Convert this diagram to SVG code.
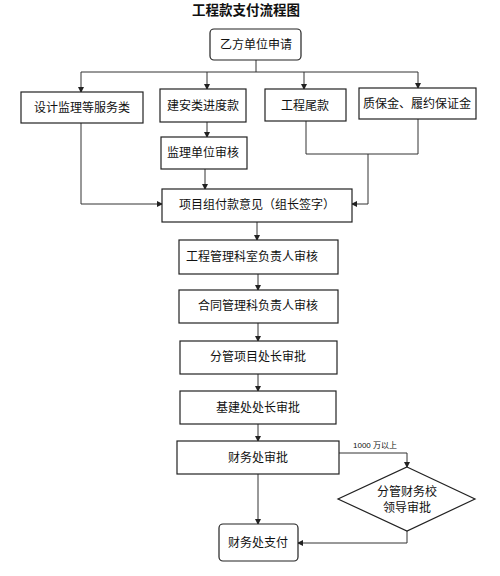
<svg xmlns="http://www.w3.org/2000/svg" width="500" height="576" viewBox="0 0 500 576">
<defs>
<marker id="ah" markerWidth="6" markerHeight="6" refX="5" refY="3" orient="auto" markerUnits="userSpaceOnUse">
<path d="M0,0 L6,3 L0,6 Z" fill="#222"/>
</marker>
<style>
.b{fill:#fff;stroke:#222;stroke-width:1.2}
.t{font-family:"Liberation Sans","Noto Sans CJK SC",sans-serif;font-size:12px;fill:#111;text-anchor:middle;dominant-baseline:central}
.c{fill:none;stroke:#333;stroke-width:1}
.a{marker-end:url(#ah)}
</style>
</defs>
<rect width="500" height="576" fill="#fff"/>
<text x="246" y="10" style="font-family:'Liberation Sans','Noto Sans CJK SC',sans-serif;font-size:13.5px;font-weight:bold;text-anchor:middle;dominant-baseline:central;fill:#111">工程款支付流程图</text>

<g id="connectors">
<path class="c" d="M256,60 V72 M81,72 H418"/>
<path class="c a" d="M81,72 V92"/>
<path class="c a" d="M207,72 V89"/>
<path class="c a" d="M304,72 V89"/>
<path class="c a" d="M418,72 V88"/>
<path class="c a" d="M207,122 V137"/>
<path class="c a" d="M205,169 V189"/>
<path class="c a" d="M81,123 V204 H162"/>
<path class="c" d="M306,121 V154 H418 V119"/>
<path class="c a" d="M368,154 V204 H352"/>
<path class="c a" d="M257,222 V240"/>
<path class="c a" d="M258,274 V290"/>
<path class="c a" d="M258,323 V341"/>
<path class="c a" d="M258,374 V391"/>
<path class="c a" d="M258,424 V441"/>
<path class="c a" d="M258,474 V524"/>
<path class="c a" d="M339,453 H407 V467"/>
<path class="c a" d="M407,531 V543 H298"/>
<text x="375" y="445" style="font-family:'Liberation Sans','Noto Sans CJK SC',sans-serif;font-size:8px;fill:#111;text-anchor:middle;dominant-baseline:central">1000 万以上</text>
</g>

<g id="start"><rect class="b" x="210" y="29" width="91" height="31" rx="4"/><text class="t" x="256" y="45">乙方单位申请</text></g>
<g id="n1"><rect class="b" x="21" y="92" width="122" height="31"/><text class="t" x="82" y="108">设计监理等服务类</text></g>
<g id="n2"><rect class="b" x="160" y="89" width="86" height="33"/><text class="t" x="203" y="106">建安类进度款</text></g>
<g id="n3"><rect class="b" x="265" y="89" width="81" height="32"/><text class="t" x="305" y="106">工程尾款</text></g>
<g id="n4"><rect class="b" x="359" y="88" width="117" height="31"/><text class="t" x="417" y="104">质保金、履约保证金</text></g>
<g id="n5"><rect class="b" x="161" y="137" width="86" height="32"/><text class="t" x="203" y="153">监理单位审核</text></g>
<g id="n6"><rect class="b" x="162" y="189" width="190" height="33"/><text class="t" x="257" y="205">项目组付款意见（组长签字）</text></g>
<g id="n7"><rect class="b" x="179" y="240" width="159" height="34"/><text class="t" x="252" y="257">工程管理科室负责人审核</text></g>
<g id="n8"><rect class="b" x="179" y="290" width="159" height="33"/><text class="t" x="258" y="306">合同管理科负责人审核</text></g>
<g id="n9"><rect class="b" x="180" y="341" width="157" height="33"/><text class="t" x="258" y="357">分管项目处长审批</text></g>
<g id="n10"><rect class="b" x="180" y="391" width="156" height="33"/><text class="t" x="258" y="408">基建处处长审批</text></g>
<g id="n11"><rect class="b" x="177" y="441" width="162" height="33"/><text class="t" x="258" y="458">财务处审批</text></g>
<g id="n12"><path class="b" d="M407,467 L475,499 L407,531 L338,499 Z"/><text class="t" x="407" y="492">分管财务校</text><text class="t" x="407" y="508">领导审批</text></g>
<g id="end"><rect class="b" x="219" y="524" width="79" height="37" rx="4"/><text class="t" x="258" y="543">财务处支付</text></g>
</svg>
